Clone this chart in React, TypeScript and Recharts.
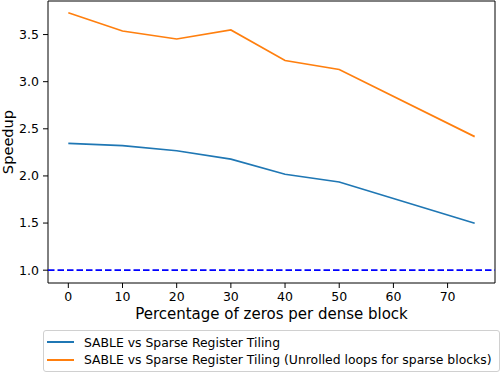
import React from 'react'
import {
  LineChart, Line, XAxis, YAxis, ReferenceLine, ReferenceArea, Legend,
} from 'recharts'

const zeroPct = [0, 10, 20, 30, 40, 50, 75]
const speedupPlain = [2.346, 2.321, 2.267, 2.178, 2.018, 1.936, 1.498]
const speedupUnrolled = [3.731, 3.538, 3.453, 3.549, 3.225, 3.129, 2.417]
const xTicks = [0, 10, 20, 30, 40, 50, 60, 70]
const yTicks = [1.0, 1.5, 2.0, 2.5, 3.0, 3.5]
const seriesNames = [
  'SABLE vs Sparse Register Tiling',
  'SABLE vs Sparse Register Tiling (Unrolled loops for sparse blocks)',
]

const data = zeroPct.map((x, i) => ({
  x,
  plain: speedupPlain[i],
  unrolled: speedupUnrolled[i],
}))

const font = '"DejaVu Sans", sans-serif'
const X_DOMAIN: [number, number] = [-3.75, 78.75]
const Y_DOMAIN: [number, number] = [0.864, 3.856]
const colors = ['#1f77b4', '#ff7f0e']

function LegendBox() {
  return (
    <div
      style={{
        width: 457,
        height: 42,
        border: '1px solid #d0d0d0',
        borderRadius: 3,
        background: '#fff',
        fontFamily: font,
        fontSize: 12.4,
        color: '#000',
        boxSizing: 'border-box',
        paddingTop: 2.5,
      }}
    >
      {seriesNames.map((name, i) => (
        <div key={name} style={{ display: 'flex', alignItems: 'center', height: 17.5 }}>
          <div style={{ width: 27, height: 2, background: colors[i], marginLeft: 3, marginRight: 10 }} />
          <span style={{ whiteSpace: 'nowrap' }}>{name}</span>
        </div>
      ))}
    </div>
  )
}

export default function App() {
  const tickStyle = { fill: '#000', fontSize: 12.5, fontFamily: font }
  return (
    <div style={{ position: 'fixed', left: 0, top: 0, background: '#fff' }}>
      <LineChart width={502} height={373} data={data} margin={{ top: 1, right: 7, left: 0, bottom: 1 }}>
        <XAxis
          dataKey="x"
          type="number"
          domain={X_DOMAIN}
          ticks={xTicks}
          allowDataOverflow
          height={47}
          tick={tickStyle}
          tickSize={5}
          tickMargin={4}
          stroke="#000"
          axisLine={false}
          tickLine={{ stroke: '#000' }}
          label={(props: any) => {
            const vb = props.viewBox || {}
            return (
              <text
                x={vb.x + vb.width / 2}
                y={319}
                textAnchor="middle"
                fontSize={15}
                fontFamily={font}
                fill="#000"
              >
                Percentage of zeros per dense block
              </text>
            )
          }}
        />
        <YAxis
          type="number"
          domain={Y_DOMAIN}
          ticks={yTicks}
          allowDataOverflow
          width={48}
          tick={tickStyle}
          tickSize={5}
          tickMargin={4}
          axisLine={false}
          tickLine={{ stroke: '#000' }}
          tickFormatter={(v: number) => v.toFixed(1)}
          label={(props: any) => {
            const vb = props.viewBox || {}
            const cy = vb.y + vb.height / 2
            return (
              <text
                x={13}
                y={cy}
                transform={`rotate(-90, 13, ${cy})`}
                textAnchor="middle"
                fontSize={14.6}
                fontFamily={font}
                fill="#000"
              >
                Speedup
              </text>
            )
          }}
        />
        <ReferenceLine y={1} stroke="#0000ff" strokeWidth={1.7} strokeDasharray="6.5 3" />
        <Line
          dataKey="plain"
          stroke={colors[0]}
          strokeWidth={1.7}
          dot={false}
          isAnimationActive={false}
        />
        <Line
          dataKey="unrolled"
          stroke={colors[1]}
          strokeWidth={1.7}
          dot={false}
          isAnimationActive={false}
        />
        <ReferenceArea
          x1={X_DOMAIN[0]}
          x2={X_DOMAIN[1]}
          y1={Y_DOMAIN[0]}
          y2={Y_DOMAIN[1]}
          fill="none"
          fillOpacity={0}
          stroke="#000"
          strokeWidth={1}
        />
        <Legend
          verticalAlign="bottom"
          content={() => <LegendBox />}
          wrapperStyle={{ left: 43, width: 457, height: 42 }}
        />
      </LineChart>
    </div>
  )
}
